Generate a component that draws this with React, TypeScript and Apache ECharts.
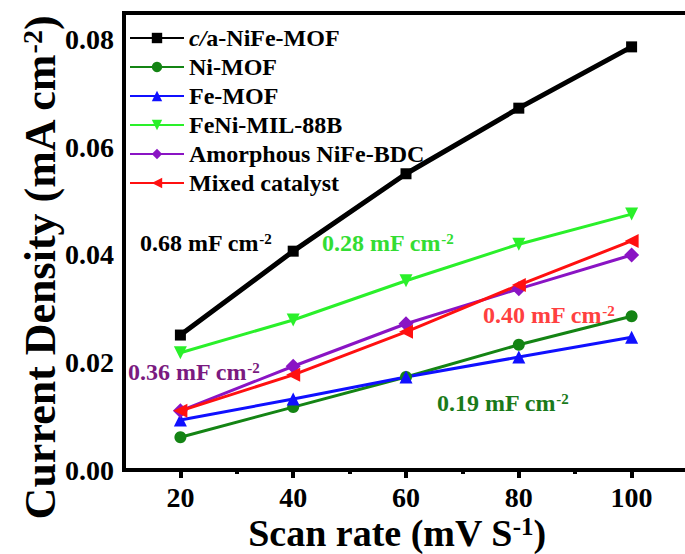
import React, { useEffect, useRef } from "react";
import * as echarts from "echarts";

const scanRates = [20, 40, 60, 80, 100];
const caNiFeMOF = [0.0251, 0.0407, 0.0551, 0.0673, 0.0787];
const niMOF = [0.0061, 0.0117, 0.0173, 0.0233, 0.0286];
const feMOF = [0.0093, 0.0132, 0.0173, 0.021, 0.0247];
const feNiMIL88B = [0.0218, 0.0279, 0.0352, 0.042, 0.0476];
const amorphousNiFeBDC = [0.011, 0.0193, 0.0272, 0.0337, 0.04];
const mixedCatalyst = [0.011, 0.0177, 0.0257, 0.0344, 0.0426];

const seriesNames = [
  "c/a-NiFe-MOF",
  "Ni-MOF",
  "Fe-MOF",
  "FeNi-MIL-88B",
  "Amorphous NiFe-BDC",
  "Mixed catalyst",
];

const xTickValues = [20, 40, 60, 80, 100];
const xMinorTickValues = [30, 50, 70, 90];
const yTickValues = [0, 0.02, 0.04, 0.06, 0.08];

const annotationTexts = ["0.68", "0.28", "0.40", "0.36", "0.19"];

const FONT = "Liberation Serif";

export default function App() {
  const ref = useRef<HTMLDivElement>(null);

  useEffect(() => {
    if (!ref.current) return;
    const chart = echarts.init(ref.current, undefined, { renderer: "svg" });

    const mk = (vals: number[]) => scanRates.map((x, i) => [x, vals[i]]);

    const lineSeries = (
      name: string,
      vals: number[],
      color: string,
      symbol: string,
      symbolSize: number,
      width: number,
      rotate = 0
    ) => ({
      name,
      type: "line",
      data: mk(vals),
      symbol,
      symbolSize,
      symbolRotate: rotate,
      lineStyle: { color, width },
      itemStyle: { color },
      z: 3,
    });

    const annot = (text: string, x: number, y: number, color: string) => ({
      type: "text",
      x,
      y,
      z: 10,
      style: {
        text: text + " mF cm{sup|-2}",
        fill: color,
        fontFamily: FONT,
        fontWeight: "bold",
        fontSize: 24,
        verticalAlign: "middle",
        rich: {
          sup: {
            fontSize: 15,
            fontWeight: "bold",
            fontFamily: FONT,
            verticalAlign: "top",
            fill: color,
          },
        },
      },
    });

    chart.setOption({
      animation: false,
      backgroundColor: "#fff",
      grid: {
        left: 124,
        top: 13,
        bottom: 84,
        right: -3,
        show: true,
        borderColor: "#000",
        borderWidth: 4,
        outerBoundsMode: "none",
        containLabel: false,
      },
      legend: {
        orient: "vertical",
        left: 124,
        top: 21,
        itemWidth: 54,
        itemHeight: 13,
        itemGap: 5,
        data: seriesNames,
        formatter: (name: string) =>
          name === "c/a-NiFe-MOF" ? "{i|c/}a-NiFe-MOF" : name,
        textStyle: {
          fontFamily: FONT,
          fontWeight: "bold",
          fontSize: 24,
          color: "#000",
          rich: {
            i: {
              fontFamily: FONT,
              fontWeight: "bold",
              fontStyle: "italic",
              fontSize: 24,
              color: "#000",
            },
          },
        },
      },
      xAxis: [
        {
          type: "value",
          min: 10,
          max: 110,
          position: "bottom",
          splitLine: { show: false },
          axisLine: { lineStyle: { color: "#000", width: 4 } },
          axisTick: {
            customValues: xTickValues,
            length: 8,
            lineStyle: { color: "#000", width: 4 },
          },
          axisLabel: {
            customValues: xTickValues,
            color: "#000",
            fontFamily: FONT,
            fontWeight: "bold",
            fontSize: 28,
            margin: 13,
          },
        },
        {
          type: "value",
          min: 10,
          max: 110,
          position: "bottom",
          splitLine: { show: false },
          axisLine: { show: false },
          axisTick: {
            customValues: xMinorTickValues,
            length: 4,
            lineStyle: { color: "#000", width: 4 },
          },
          axisLabel: { show: false },
        },
      ],
      yAxis: {
        type: "value",
        min: 0,
        max: 0.085,
        splitLine: { show: false },
        axisLine: { lineStyle: { color: "#000", width: 4 } },
        axisTick: { show: false },
        axisLabel: {
          customValues: yTickValues,
          formatter: (v: number) => v.toFixed(2),
          color: "#000",
          fontFamily: FONT,
          fontWeight: "bold",
          fontSize: 28,
          margin: 10,
        },
      },
      series: [
        lineSeries(seriesNames[0], caNiFeMOF, "#000000", "rect", 11, 5),
        lineSeries(seriesNames[1], niMOF, "#148414", "circle", 12, 3),
        lineSeries(seriesNames[2], feMOF, "#1010ff", "triangle", 13, 3),
        lineSeries(seriesNames[3], feNiMIL88B, "#2af02a", "triangle", 13, 3, 180),
        lineSeries(seriesNames[4], amorphousNiFeBDC, "#8a14c4", "diamond", 15, 3),
        lineSeries(seriesNames[5], mixedCatalyst, "#ff1010", "triangle", 14, 3, 90),
      ],
      graphic: [
        annot(annotationTexts[0], 140, 243, "#000000"),
        annot(annotationTexts[1], 322, 243, "#33dd33"),
        annot(annotationTexts[2], 483, 315, "#ff4040"),
        annot(annotationTexts[3], 128, 372, "#7a1a80"),
        annot(annotationTexts[4], 437, 403, "#1a7a1a"),
        {
          type: "text",
          x: 40,
          y: 268,
          rotation: Math.PI / 2,
          z: 10,
          style: {
            text: "Current Density (mA cm{sup|-2})",
            fill: "#000",
            fontFamily: FONT,
            fontWeight: "bold",
            fontSize: 44,
            align: "center",
            verticalAlign: "middle",
            rich: {
              sup: {
                fontSize: 28,
                fontWeight: "bold",
                fontFamily: FONT,
                verticalAlign: "top",
                fill: "#000",
              },
            },
          },
        },
        {
          type: "text",
          x: 397,
          y: 533,
          z: 10,
          style: {
            text: "Scan rate (mV S{sup|-1})",
            fill: "#000",
            fontFamily: FONT,
            fontWeight: "bold",
            fontSize: 38,
            align: "center",
            verticalAlign: "middle",
            rich: {
              sup: {
                fontSize: 25,
                fontWeight: "bold",
                fontFamily: FONT,
                verticalAlign: "top",
                fill: "#000",
              },
            },
          },
        },
      ],
    });

    return () => chart.dispose();
  }, []);

  return (
    <div
      ref={ref}
      style={{ position: "absolute", left: 0, top: 0, width: 685, height: 554 }}
    />
  );
}
